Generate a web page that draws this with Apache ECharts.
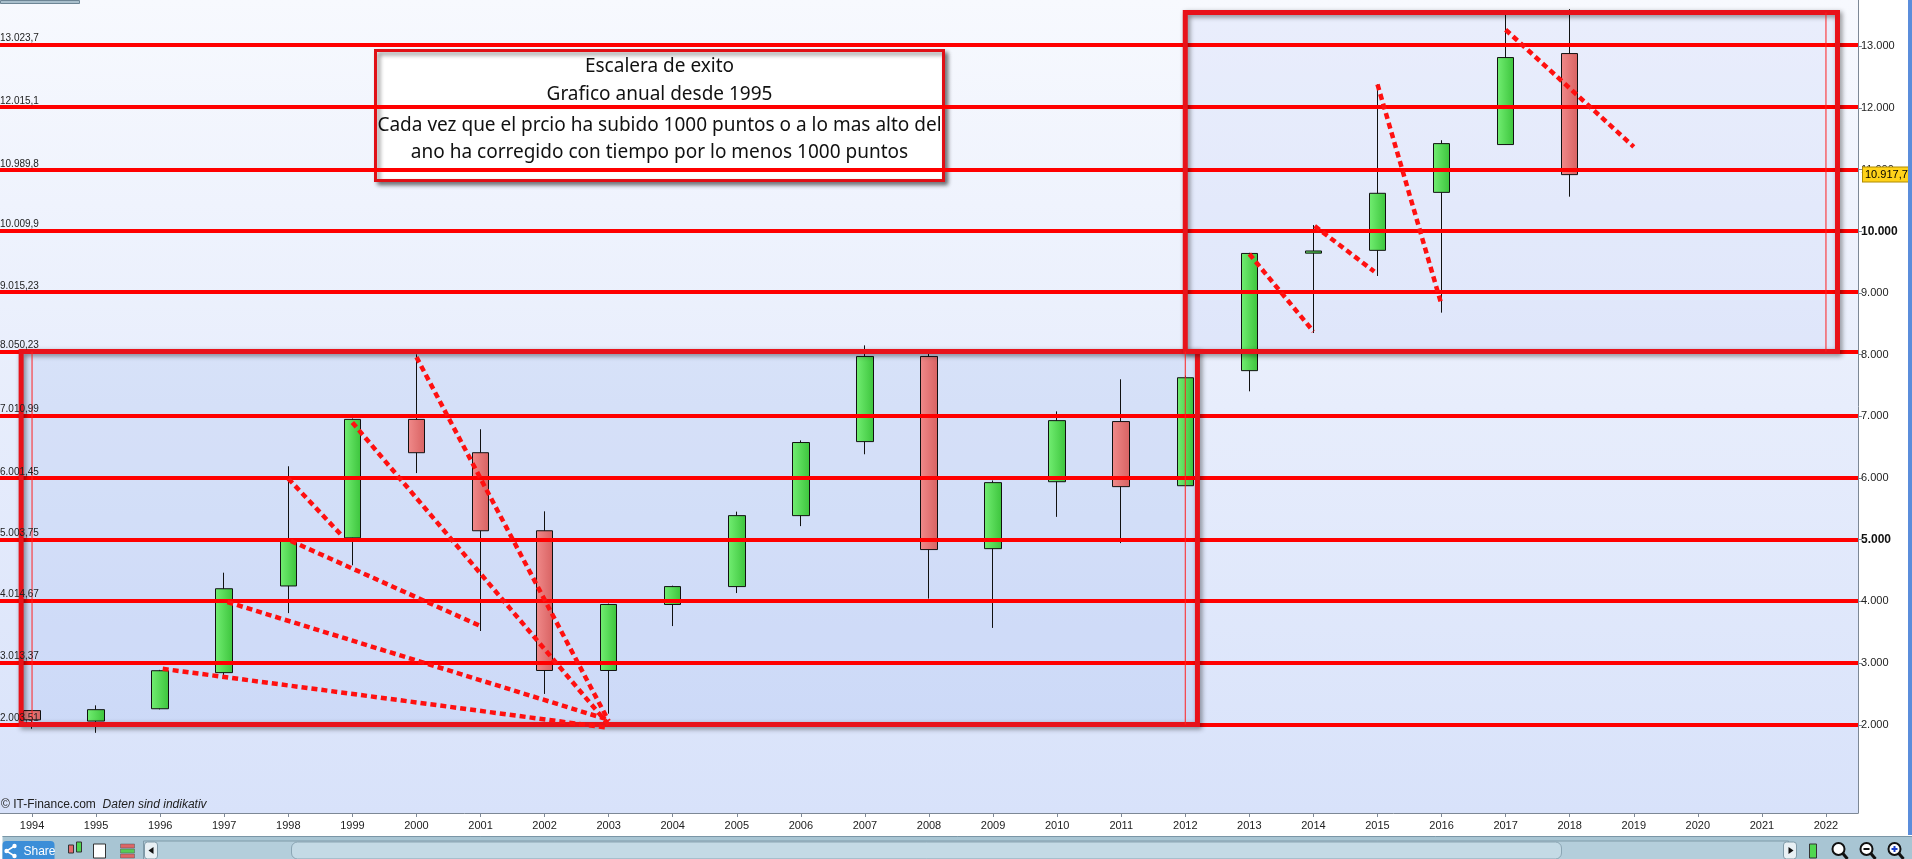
<!DOCTYPE html>
<html><head><meta charset="utf-8">
<script src="https://cdn.jsdelivr.net/npm/echarts@6/dist/echarts.min.js"></script>
<style>html,body{margin:0;padding:0;background:#fff;overflow:hidden}#c{width:1912px;height:859px;}</style>
</head><body><div id="c"></div><script>
// ---- data ----
const years = ['1994','1995','1996','1997','1998','1999','2000','2001','2002','2003','2004','2005','2006','2007','2008','2009','2010','2011','2012','2013','2014','2015','2016','2017','2018','2019','2020','2021','2022'];
const opens  = [2230, 2060, 2260, 2845, 4250, 5030, 6950, 6410, 5145, 2880, 3950, 4240, 5390, 6590, 7970, 4855, 5940, 6915, 5875, 7740, 9645, 9690, 10630, 11405, 12880];
const closes = [2080, 2245, 2876, 4205, 4980, 6950, 6410, 5145, 2880, 3950, 4240, 5390, 6575, 7970, 4840, 5925, 6930, 5860, 7625, 9640, 9680, 10615, 11420, 12815, 10917.7];
const lows   = [1935, 1870, 2250, 2800, 3810, 4585, 6080, 3520, 2500, 2180, 3600, 4135, 5220, 6385, 4045, 3570, 5370, 4945, 5870, 7405, 8350, 9275, 8680, 11400, 10560];
const highs  = [2240, 2315, 2890, 4465, 6190, 6965, 8005, 6790, 5460, 3965, 4255, 5455, 6610, 8150, 8020, 5960, 7080, 7600, 7660, 9650, 10100, 12380, 11475, 13525, 13600];
const levels = [13023.7, 12015.1, 10989.8, 10009.9, 9015.23, 8050.23, 7010.99, 6001.45, 5003.75, 4014.67, 3013.37, 2003.51];
const levelLabels = ['13.023,7','12.015,1','10.989,8','10.009,9','9.015,23','8.050,23','7.010,99','6.001,45','5.003,75','4.014,67','3.013,37','2.003,51'];
const yTicks = [2000,3000,4000,5000,6000,7000,8000,9000,10000,11000,12000,13000];
const yTickLabels = ['2.000','3.000','4.000','5.000','6.000','7.000','8.000','9.000','10.000','11.000','12.000','13.000'];
const boldTicks = [5000, 10000];
// trend lines: [yearStart, valueStart, yearEnd, valueEnd]
const trendLines = [
  [1996.04, 2907, 2003.0, 1950],
  [1997.05, 3990, 2003.0, 2080],
  [1998.04, 4980, 2001.0, 3600],
  [1998.0, 5990, 1998.85, 5050],
  [1999.0, 6900, 2003.0, 2000],
  [2000.0, 7960, 2003.0, 2060],
  [2013.0, 9630, 2014.0, 8375],
  [2014.02, 10084, 2014.95, 9346],
  [2015.0, 12380, 2016.0, 8806],
  [2017.0, 13266, 2019.0, 11368]
];
// boxes: [yearLeft, valueBottom, yearRight, valueTop]
const boxRects = [[1993.83, 2003.51, 2012.19, 8050.23], [2012.0, 8050.23, 2022.18, 13545]];
// thin guides: [year, valueBottom, valueTop]
const boxGuides = [[1994, 2003.51, 8050.23], [2012, 2003.51, 8050.23], [2022, 8050.23, 13545]];
const lastPrice = 10917.7;
const lastPriceLabel = '10.917,7';
const noteLines = ['Escalera de exito', 'Grafico anual desde 1995', 'Cada vez que el prcio ha subido 1000 puntos o a lo mas alto del', 'ano ha corregido con tiempo por lo menos 1000 puntos'];

// ---- chart ----
const chart = echarts.init(document.getElementById('c'));
const candleData = years.map((y, i) => i < opens.length ? [opens[i], closes[i], lows[i], highs[i]] : '-');

function rectItem(fillColor, strokeColor, lw, shadow) {
  return function (params, api) {
    const p1 = api.coord([api.value(0), api.value(3)]);
    const p2 = api.coord([api.value(2), api.value(1)]);
    const st = { fill: fillColor, stroke: strokeColor, lineWidth: lw };
    if (shadow) { st.shadowBlur = 5; st.shadowColor = 'rgba(0,0,0,0.45)'; st.shadowOffsetX = 2; st.shadowOffsetY = 2; }
    return { type: 'rect', shape: { x: p1[0], y: p1[1], width: p2[0] - p1[0], height: p2[1] - p1[1] }, style: st };
  };
}

const series = [];
series.push({
  type: 'custom', name: 'boxFill', xAxisIndex: 1, yAxisIndex: 0, z: 1, silent: true,
  data: boxRects, encode: { x: [0, 2], y: [1, 3] },
  renderItem: function (params, api) {
    const p1 = api.coord([api.value(0), api.value(3)]);
    const p2 = api.coord([api.value(2), api.value(1)]);
    const fill = params.dataIndex === 0 ? 'rgba(160,182,238,0.24)' : 'rgba(185,202,245,0.22)';
    return { type: 'rect', shape: { x: p1[0], y: p1[1], width: p2[0] - p1[0], height: p2[1] - p1[1] }, style: { fill: fill } };
  }
});
series.push({
  type: 'candlestick', name: 'DAX', xAxisIndex: 0, yAxisIndex: 0, z: 3, barWidth: 17,
  data: candleData,
  itemStyle: {
    color: new echarts.graphic.LinearGradient(0, 0, 1, 0, [{ offset: 0, color: '#72ee72' }, { offset: 1, color: '#3cc43c' }]),
    color0: new echarts.graphic.LinearGradient(0, 0, 1, 0, [{ offset: 0, color: '#f08a8a' }, { offset: 1, color: '#d86262' }]),
    borderColor: '#111', borderColor0: '#111', borderWidth: 1
  }
});
series.push({
  type: 'line', name: 'levels', xAxisIndex: 1, yAxisIndex: 0, z: 4, data: [], silent: true,
  markLine: {
    silent: true, symbol: 'none', animation: false,
    lineStyle: { color: '#ff0000', width: 4, type: 'solid' },
    label: { show: true, position: 'insideStartTop', distance: [0, 1], color: '#222', fontSize: 10, fontFamily: 'Liberation Sans' },
    data: levels.map((v, i) => ({ yAxis: v, label: { formatter: levelLabels[i] } }))
  }
});
series.push({
  type: 'custom', name: 'boxBorder', xAxisIndex: 1, yAxisIndex: 0, z: 5, silent: true,
  data: boxRects, encode: { x: [0, 2], y: [1, 3] },
  renderItem: rectItem('none', '#e8121a', 5, true)
});
series.push({
  type: 'custom', name: 'guides', xAxisIndex: 1, yAxisIndex: 0, z: 5, silent: true,
  data: boxGuides, encode: { x: 0, y: [1, 2] },
  renderItem: function (params, api) {
    const a = api.coord([api.value(0), api.value(1)]);
    const b = api.coord([api.value(0), api.value(2)]);
    return { type: 'line', shape: { x1: a[0], y1: a[1], x2: b[0], y2: b[1] }, style: { stroke: '#ff2020', lineWidth: 1 } };
  }
});
trendLines.forEach((t, i) => {
  series.push({
    type: 'line', name: 'trend' + i, xAxisIndex: 1, yAxisIndex: 0, z: 6, silent: true,
    symbol: 'none', data: [[t[0], t[1]], [t[2], t[3]]],
    lineStyle: { color: '#ff1010', width: 4.5, type: [6, 4] }
  });
});
series.push({
  type: 'line', name: 'last', xAxisIndex: 1, yAxisIndex: 0, z: 7, data: [], silent: true,
  markLine: {
    silent: true, symbol: 'none', animation: false,
    lineStyle: { color: 'rgba(0,0,0,0)', width: 1 },
    label: { show: true, position: 'end', distance: 5, formatter: lastPriceLabel, backgroundColor: '#ffd21a', borderColor: '#b08c00', borderWidth: 1, padding: [2, 1, 1, 2], color: '#000', fontSize: 11, fontFamily: 'Liberation Sans' },
    data: [{ yAxis: lastPrice }]
  }
});

const noteFont = '19px "Noto Sans"';
const option = {
  backgroundColor: '#ffffff',
  animation: false,
  grid: {
    left: 0, right: 54, top: 0, bottom: 46, show: true, borderWidth: 0,
    backgroundColor: new echarts.graphic.LinearGradient(0, 0, 0, 1, [{ offset: 0, color: '#f7f9fe' }, { offset: 0.5, color: '#e7edfc' }, { offset: 1, color: '#d8e2fa' }])
  },
  xAxis: [
    {
      type: 'category', data: years, boundaryGap: true,
      axisLine: { show: true, lineStyle: { color: '#7d8896', width: 1 } },
      axisTick: { show: true, alignWithLabel: true, length: 4, lineStyle: { color: '#7d8896' } },
      axisLabel: { color: '#222', fontSize: 11, fontFamily: 'Liberation Sans', margin: 7, interval: 0 },
      splitLine: { show: false }
    },
    { type: 'value', min: 1993.5, max: 2022.5, show: false, splitLine: { show: false } }
  ],
  yAxis: [{
    type: 'value', position: 'right', min: 570, max: 13748, scale: true,
    axisLine: { show: true, lineStyle: { color: '#7d8896' } },
    axisTick: { show: true, length: 4, lineStyle: { color: '#7d8896' }, customValues: yTicks },
    axisLabel: {
      customValues: yTicks, margin: 3, color: '#222', fontSize: 11, fontFamily: 'Liberation Sans',
      formatter: function (v) {
        const i = yTicks.indexOf(v);
        const t = i >= 0 ? yTickLabels[i] : '';
        return boldTicks.indexOf(v) >= 0 ? '{b|' + t + '}' : t;
      },
      rich: { b: { fontWeight: 'bold', fontSize: 12, color: '#111', fontFamily: 'Liberation Sans' } }
    },
    splitLine: { show: false }
  }],
  series: series,
  graphic: [
    // note box
    {
      type: 'group', left: 374, top: 49, z: 100,
      children: [
        { type: 'rect', shape: { x: 0, y: 0, width: 568, height: 130 }, style: { fill: '#fff', stroke: '#e01016', lineWidth: 3, shadowBlur: 4, shadowOffsetX: 3, shadowOffsetY: 3, shadowColor: 'rgba(0,0,0,0.45)' } },
        { type: 'text', x: 284, y: 16, style: { text: noteLines[0], fill: '#111', font: noteFont, align: 'center', verticalAlign: 'middle' } },
        { type: 'text', x: 284, y: 44, style: { text: noteLines[1], fill: '#111', font: noteFont, align: 'center', verticalAlign: 'middle' } },
        { type: 'text', x: 284, y: 75, style: { text: noteLines[2], fill: '#111', font: noteFont, align: 'center', verticalAlign: 'middle' } },
        { type: 'text', x: 284, y: 102, style: { text: noteLines[3], fill: '#111', font: noteFont, align: 'center', verticalAlign: 'middle' } }
      ]
    },
    // watermark
    {
      type: 'text', left: 1, top: 799, z: 100,
      style: {
        text: '{a|© IT-Finance.com}  {b|Daten sind indikativ}',
        rich: { a: { fontSize: 12, fill: '#222', fontFamily: 'Liberation Sans' }, b: { fontSize: 12, fill: '#222', fontStyle: 'italic', fontFamily: 'Liberation Sans' } }
      }
    },
    // top-left tab
    { type: 'rect', left: 0, top: 0, z: 100, shape: { width: 79, height: 3 }, style: { fill: '#a9bfcc', stroke: '#6d8595', lineWidth: 1 } },
    // right blue strip
    { type: 'rect', left: 1908, top: 0, z: 100, shape: { width: 4, height: 835 }, style: { fill: '#5b8ddb' } },
    // bottom toolbar
    {
      type: 'group', left: 0, top: 834, z: 100,
      children: [
        { type: 'rect', shape: { x: 0, y: 0, width: 1912, height: 25 }, style: { fill: '#a8c5d3' } },
        { type: 'line', shape: { x1: 0, y1: 0.5, x2: 1912, y2: 0.5 }, style: { stroke: '#7a96a6', lineWidth: 1 } },
        { type: 'rect', shape: { x: 0, y: 5, width: 52, height: 20, r: [4, 4, 0, 0] }, style: { fill: '#3b8ed8' } },
        { type: 'circle', shape: { cx: 4, cy: 15, r: 2.2 }, style: { fill: '#fff' } },
        { type: 'circle', shape: { cx: 12, cy: 10, r: 2.2 }, style: { fill: '#fff' } },
        { type: 'circle', shape: { cx: 12, cy: 20, r: 2.2 }, style: { fill: '#fff' } },
        { type: 'polyline', shape: { points: [[12, 10], [4, 15], [12, 20]] }, style: { stroke: '#fff', lineWidth: 1.5 } },
        { type: 'text', x: 21, y: 16, style: { text: 'Share', fill: '#fff', font: '12px "Liberation Sans"', verticalAlign: 'middle' } },
        { type: 'rect', shape: { x: 66, y: 9, width: 5, height: 8 }, style: { fill: '#e46a6a', stroke: '#333', lineWidth: 1 } },
        { type: 'rect', shape: { x: 74, y: 6, width: 5, height: 10 }, style: { fill: '#4fd64f', stroke: '#333', lineWidth: 1 } },
        { type: 'rect', shape: { x: 91, y: 8, width: 12, height: 14 }, style: { fill: '#fff', stroke: '#333', lineWidth: 1 } },
        { type: 'rect', shape: { x: 118, y: 8, width: 14, height: 4 }, style: { fill: '#d66', stroke: '#555', lineWidth: 0.5 } },
        { type: 'rect', shape: { x: 118, y: 13, width: 14, height: 4 }, style: { fill: '#5c5', stroke: '#555', lineWidth: 0.5 } },
        { type: 'rect', shape: { x: 118, y: 18, width: 14, height: 4 }, style: { fill: '#d66', stroke: '#555', lineWidth: 0.5 } },
        { type: 'rect', shape: { x: 141, y: 5, width: 1645, height: 19 }, style: { fill: '#b4cedb', stroke: '#7f9aa8', lineWidth: 1 } },
        { type: 'rect', shape: { x: 142, y: 6, width: 13, height: 17, r: 3 }, style: { fill: '#e8f0f4', stroke: '#7f9aa8', lineWidth: 1 } },
        { type: 'polygon', shape: { points: [[151, 11], [146, 14.5], [151, 18]] }, style: { fill: '#111' } },
        { type: 'rect', shape: { x: 289, y: 6, width: 1270, height: 17, r: 6 }, style: { fill: '#c4dae5', stroke: '#8aa5b3', lineWidth: 1 } },
        { type: 'rect', shape: { x: 1781, y: 6, width: 13, height: 17, r: 3 }, style: { fill: '#e8f0f4', stroke: '#7f9aa8', lineWidth: 1 } },
        { type: 'polygon', shape: { points: [[1786, 11], [1791, 14.5], [1786, 18]] }, style: { fill: '#111' } },
        { type: 'rect', shape: { x: 1807, y: 8, width: 7, height: 14 }, style: { fill: '#4fd64f', stroke: '#333', lineWidth: 1 } },
        { type: 'circle', shape: { cx: 1836, cy: 13, r: 6 }, style: { fill: '#fff', stroke: '#111', lineWidth: 2 } },
        { type: 'line', shape: { x1: 1840, y1: 17, x2: 1845, y2: 23 }, style: { stroke: '#111', lineWidth: 3 } },
        { type: 'circle', shape: { cx: 1864, cy: 13, r: 6 }, style: { fill: '#fff', stroke: '#111', lineWidth: 2 } },
        { type: 'line', shape: { x1: 1861, y1: 13, x2: 1867, y2: 13 }, style: { stroke: '#111', lineWidth: 2 } },
        { type: 'line', shape: { x1: 1868, y1: 17, x2: 1873, y2: 23 }, style: { stroke: '#111', lineWidth: 3 } },
        { type: 'circle', shape: { cx: 1892, cy: 13, r: 6 }, style: { fill: '#fff', stroke: '#111', lineWidth: 2 } },
        { type: 'line', shape: { x1: 1889, y1: 13, x2: 1895, y2: 13 }, style: { stroke: '#1a3fc8', lineWidth: 2 } },
        { type: 'line', shape: { x1: 1892, y1: 10, x2: 1892, y2: 16 }, style: { stroke: '#1a3fc8', lineWidth: 2 } },
        { type: 'line', shape: { x1: 1896, y1: 17, x2: 1901, y2: 23 }, style: { stroke: '#111', lineWidth: 3 } }
      ]
    }
  ]
};
chart.setOption(option);
</script></body></html>
